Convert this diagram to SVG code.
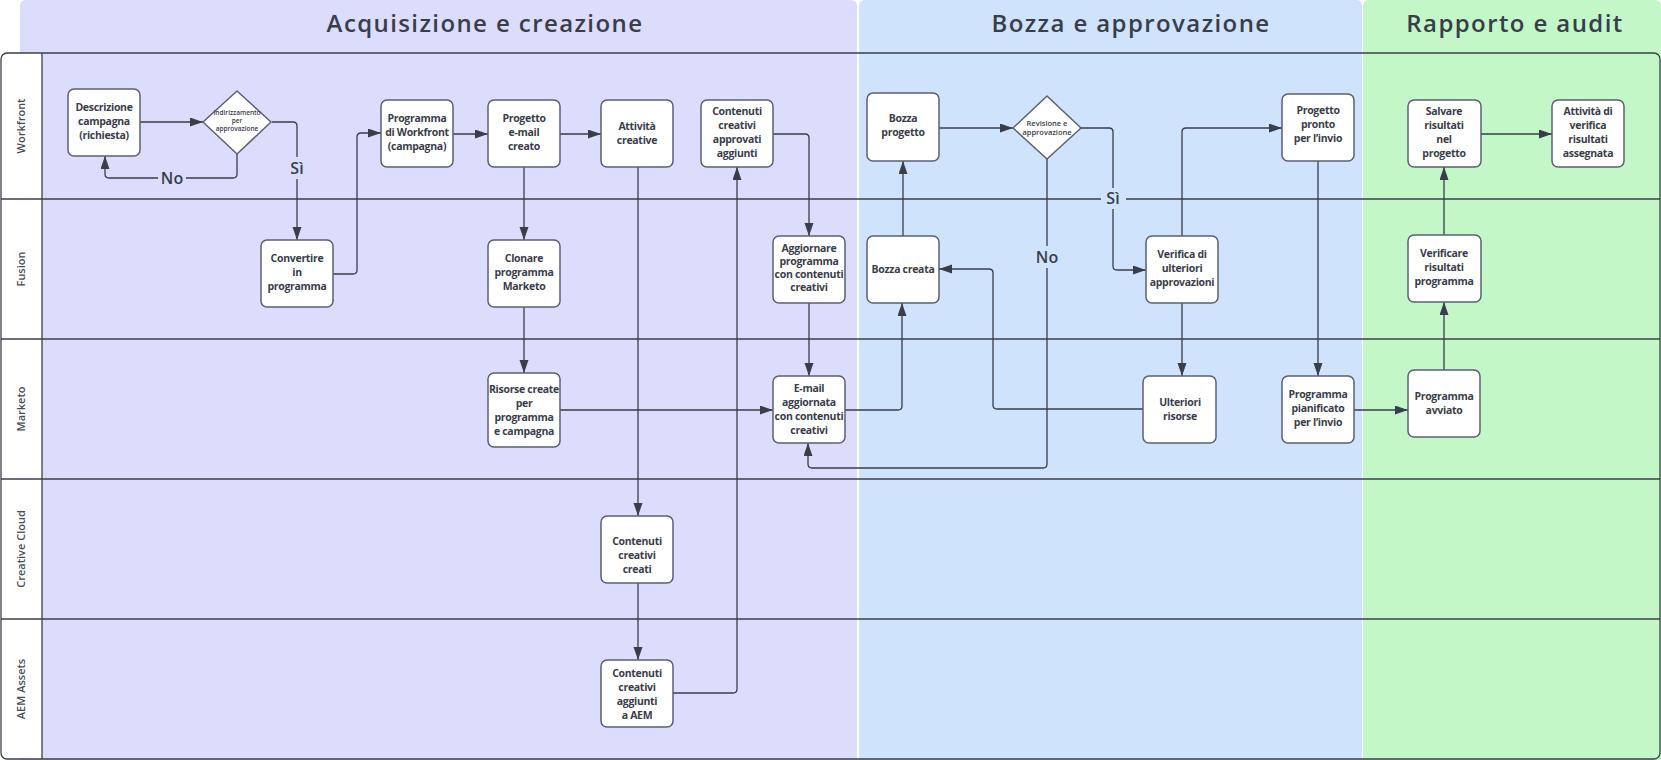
<svg xmlns="http://www.w3.org/2000/svg" width="1661" height="760" viewBox="0 0 1661 760">
<style>
.t{font-family:"Open Sans","Noto Sans",sans-serif;font-weight:600;fill:#3a3d4a;text-anchor:middle}
.node{font-size:10.5px;letter-spacing:-0.3px;font-weight:700}
.box{fill:#fff;stroke:#5c6070;stroke-width:1.5}
.lane{stroke:#3b3f4a;stroke-width:1.3;fill:none}
.title{font-size:24px;letter-spacing:1.4px}
.lname{font-size:11px;fill:#4a4d57}
.c{fill:none;stroke:#3a3d4a;stroke-width:1.3;stroke-linejoin:round;marker-end:url(#ah)}
.lbl{font-size:16px}
</style>
<defs>
<marker id="ah" markerUnits="userSpaceOnUse" markerWidth="14" markerHeight="10" refX="13" refY="4.5" orient="auto">
<path d="M0,0 L13,4.5 L0,9 z" fill="#3a3d4a"/>
</marker>
</defs>
<rect width="1661" height="760" fill="#fff"/>
<g id="phases">
<path d="M20,760 V6 Q20,0 26,0 H851 Q857,0 857,6 V760 z" fill="#dcdcfc"/>
<path d="M859,760 V6 Q859,0 865,0 H1357 Q1362,0 1362,6 V760 z" fill="#cfe3fd"/>
<path d="M1363,760 V6 Q1363,0 1369,0 H1655 Q1661,0 1661,6 V760 z" fill="#c4f7c8"/>
<text class="t title" x="485" y="32">Acquisizione e creazione</text>
<text class="t title" x="1131" y="32">Bozza e approvazione</text>
<text class="t title" x="1515" y="32">Rapporto e audit</text>
</g>
<g id="lanes">
<path d="M1,59 Q1,53 7,53 H42 V759 H7 Q1,759 1,753 z" fill="#fff"/>
<rect x="1" y="53" width="1659" height="706" rx="6" class="lane" stroke-width="1.6"/>
<line x1="42" y1="53" x2="42" y2="759" class="lane"/>
<line x1="1" y1="199" x2="1660" y2="199" class="lane"/>
<line x1="1" y1="339" x2="1660" y2="339" class="lane"/>
<line x1="1" y1="479" x2="1660" y2="479" class="lane"/>
<line x1="1" y1="619" x2="1660" y2="619" class="lane"/>
<text class="t lname" transform="translate(25,126) rotate(-90)">Workfront</text>
<text class="t lname" transform="translate(25,269) rotate(-90)">Fusion</text>
<text class="t lname" transform="translate(25,409) rotate(-90)">Marketo</text>
<text class="t lname" transform="translate(25,549) rotate(-90)">Creative Cloud</text>
<text class="t lname" transform="translate(25,689) rotate(-90)">AEM Assets</text>
</g>
<g id="connectors">
<path class="c" d="M140,122 H203"/>
<path class="c" d="M272,122 H293 Q297,122 297,126 V240"/>
<path class="c" d="M237,154 V174 Q237,178 233,178 H109 Q105,178 105,174 V156"/>
<path class="c" d="M333,274 H353 Q357,274 357,270 V137 Q357,133 361,133 H381"/>
<path class="c" d="M453,134 H488"/>
<path class="c" d="M560,134 H601"/>
<path class="c" d="M524,167 V240"/>
<path class="c" d="M524,307 V373"/>
<path class="c" d="M638,167 V516"/>
<path class="c" d="M638,583 V660"/>
<path class="c" d="M673,693 H733 Q737,693 737,689 V167"/>
<path class="c" d="M773,134 H805 Q809,134 809,138 V236"/>
<path class="c" d="M809,303 V376"/>
<path class="c" d="M560,410 H773"/>
<path class="c" d="M845,410 H898 Q902,410 902,406 V303"/>
<path class="c" d="M903,236 V161"/>
<path class="c" d="M939,128 H1013"/>
<path class="c" d="M1081,128 H1109 Q1113,128 1113,132 V266 Q1113,270 1117,270 H1146"/>
<path class="c" d="M1047,159 V464 Q1047,468 1043,468 H812 Q808,468 808,464 V443"/>
<path class="c" d="M1182,236 V132 Q1182,128 1186,128 H1282"/>
<path class="c" d="M1182,303 V376"/>
<path class="c" d="M1143,409 H997 Q993,409 993,405 V273 Q993,269 989,269 H939"/>
<path class="c" d="M1318,161 V376"/>
<path class="c" d="M1354,410 H1408"/>
<path class="c" d="M1444,370 V302"/>
<path class="c" d="M1444,235 V167"/>
<path class="c" d="M1481,134 H1552"/>
<rect x="284" y="157" width="26" height="22" fill="#dcdcfc"/>
<text class="t lbl" x="297" y="174">Sì</text>
<rect x="158" y="168" width="28" height="20" fill="#dcdcfc"/>
<text class="t lbl" x="172" y="184">No</text>
<rect x="1101" y="188" width="25" height="21" fill="#cfe3fd"/>
<text class="t lbl" x="1113" y="204">Sì</text>
<rect x="1033" y="246" width="28" height="22" fill="#cfe3fd"/>
<text class="t lbl" x="1047" y="263">No</text>
</g>
<g id="n-descrizione"><rect class="box" x="68" y="89" width="72" height="67" rx="6"/><text class="t node" x="104" y="111">Descrizione<tspan x="104" dy="14">campagna</tspan><tspan x="104" dy="14">(richiesta)</tspan></text></g>
<g id="n-indirizzamento"><path class="box" stroke-linejoin="round" d="M237,91 L271,122 L237,154 L203,122 z"/><text class="t" font-size="6.5" font-weight="700" x="237" y="115">Indirizzamento<tspan x="237" dy="8">per</tspan><tspan x="237" dy="8">approvazione</tspan></text></g>
<g id="n-convertire"><rect class="box" x="261" y="240" width="72" height="67" rx="6"/><text class="t node" x="297" y="262">Convertire<tspan x="297" dy="14">in</tspan><tspan x="297" dy="14">programma</tspan></text></g>
<g id="n-programma-wf"><rect class="box" x="381" y="100" width="72" height="67" rx="6"/><text class="t node" x="417" y="122">Programma<tspan x="417" dy="14">di Workfront</tspan><tspan x="417" dy="14">(campagna)</tspan></text></g>
<g id="n-progetto-email"><rect class="box" x="488" y="100" width="72" height="67" rx="6"/><text class="t node" x="524" y="122">Progetto<tspan x="524" dy="14">e-mail</tspan><tspan x="524" dy="14">creato</tspan></text></g>
<g id="n-attivita-creative"><rect class="box" x="601" y="100" width="72" height="67" rx="6"/><text class="t node" x="637" y="130">Attività<tspan x="637" dy="14">creative</tspan></text></g>
<g id="n-contenuti-approvati"><rect class="box" x="701" y="100" width="72" height="67" rx="6"/><text class="t node" x="737" y="115">Contenuti<tspan x="737" dy="14">creativi</tspan><tspan x="737" dy="14">approvati</tspan><tspan x="737" dy="14">aggiunti</tspan></text></g>
<g id="n-clonare"><rect class="box" x="488" y="240" width="72" height="67" rx="6"/><text class="t node" x="524" y="262">Clonare<tspan x="524" dy="14">programma</tspan><tspan x="524" dy="14">Marketo</tspan></text></g>
<g id="n-aggiornare"><rect class="box" x="773" y="236" width="72" height="67" rx="6"/><text class="t node" font-size="10" x="809" y="252">Aggiornare<tspan x="809" dy="13">programma</tspan><tspan x="809" dy="13">con contenuti</tspan><tspan x="809" dy="13">creativi</tspan></text></g>
<g id="n-risorse"><rect class="box" x="488" y="373" width="72" height="74" rx="6"/><text class="t node" x="524" y="393">Risorse create<tspan x="524" dy="14">per</tspan><tspan x="524" dy="14">programma</tspan><tspan x="524" dy="14">e campagna</tspan></text></g>
<g id="n-email-aggiornata"><rect class="box" x="773" y="376" width="72" height="67" rx="6"/><text class="t node" x="809" y="392">E-mail<tspan x="809" dy="14">aggiornata</tspan><tspan x="809" dy="14">con contenuti</tspan><tspan x="809" dy="14">creativi</tspan></text></g>
<g id="n-contenuti-creati"><rect class="box" x="601" y="516" width="72" height="67" rx="6"/><text class="t node" x="637" y="545">Contenuti<tspan x="637" dy="14">creativi</tspan><tspan x="637" dy="14">creati</tspan></text></g>
<g id="n-contenuti-aem"><rect class="box" x="601" y="660" width="72" height="67" rx="6"/><text class="t node" x="637" y="677">Contenuti<tspan x="637" dy="14">creativi</tspan><tspan x="637" dy="14">aggiunti</tspan><tspan x="637" dy="14">a AEM</tspan></text></g>
<g id="n-bozza-progetto"><rect class="box" x="867" y="93" width="72" height="68" rx="6"/><text class="t node" x="903" y="122">Bozza<tspan x="903" dy="14">progetto</tspan></text></g>
<g id="n-revisione"><path class="box" stroke-linejoin="round" d="M1047,96 L1081,128 L1047,159 L1013,128 z"/><text class="t" font-size="7.5" font-weight="700" x="1047" y="126">Revisione e<tspan x="1047" dy="9">approvazione</tspan></text></g>
<g id="n-bozza-creata"><rect class="box" x="867" y="236" width="72" height="67" rx="6"/><text class="t node" x="903" y="273">Bozza creata</text></g>
<g id="n-verifica"><rect class="box" x="1146" y="236" width="72" height="67" rx="6"/><text class="t node" x="1182" y="258">Verifica di<tspan x="1182" dy="14">ulteriori</tspan><tspan x="1182" dy="14">approvazioni</tspan></text></g>
<g id="n-ulteriori"><rect class="box" x="1143" y="376" width="73" height="67" rx="6"/><text class="t node" x="1180" y="406">Ulteriori<tspan x="1180" dy="14">risorse</tspan></text></g>
<g id="n-progetto-pronto"><rect class="box" x="1282" y="94" width="72" height="67" rx="6"/><text class="t node" x="1318" y="114">Progetto<tspan x="1318" dy="14">pronto</tspan><tspan x="1318" dy="14">per l’invio</tspan></text></g>
<g id="n-programma-pianificato"><rect class="box" x="1282" y="376" width="72" height="67" rx="6"/><text class="t node" x="1318" y="398">Programma<tspan x="1318" dy="14">pianificato</tspan><tspan x="1318" dy="14">per l’invio</tspan></text></g>
<g id="n-salvare"><rect class="box" x="1408" y="100" width="73" height="67" rx="6"/><text class="t node" x="1444" y="115">Salvare<tspan x="1444" dy="14">risultati</tspan><tspan x="1444" dy="14">nel</tspan><tspan x="1444" dy="14">progetto</tspan></text></g>
<g id="n-attivita-verifica"><rect class="box" x="1552" y="100" width="72" height="67" rx="6"/><text class="t node" x="1588" y="115">Attività di<tspan x="1588" dy="14">verifica</tspan><tspan x="1588" dy="14">risultati</tspan><tspan x="1588" dy="14">assegnata</tspan></text></g>
<g id="n-verificare"><rect class="box" x="1408" y="235" width="73" height="67" rx="6"/><text class="t node" x="1444" y="257">Verificare<tspan x="1444" dy="14">risultati</tspan><tspan x="1444" dy="14">programma</tspan></text></g>
<g id="n-programma-avviato"><rect class="box" x="1408" y="370" width="72" height="67" rx="6"/><text class="t node" x="1444" y="400">Programma<tspan x="1444" dy="14">avviato</tspan></text></g>
</svg>
